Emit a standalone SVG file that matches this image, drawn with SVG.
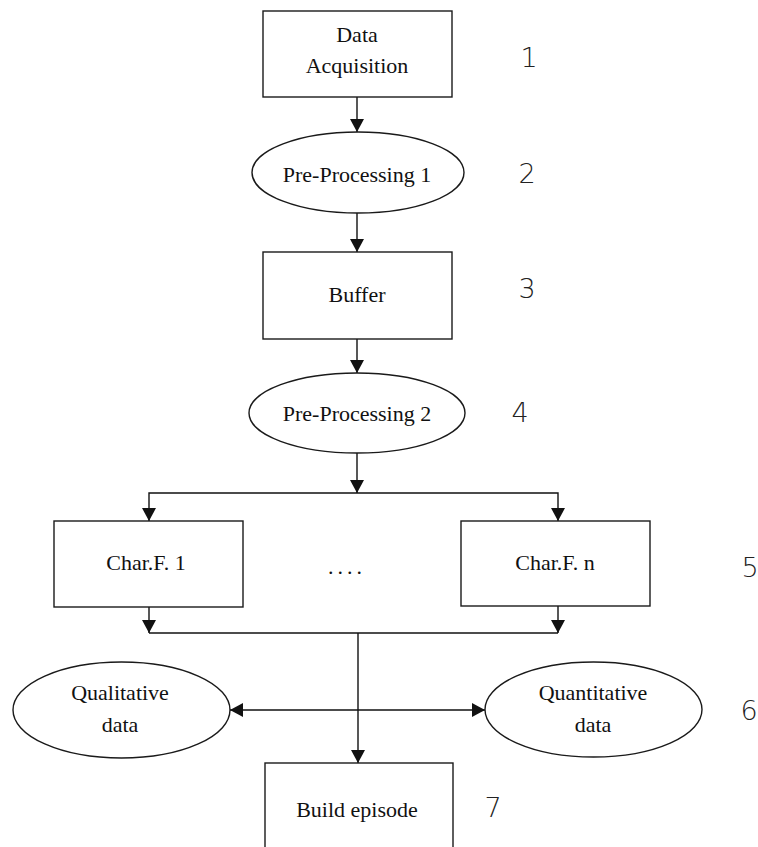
<svg xmlns="http://www.w3.org/2000/svg" width="758" height="847" viewBox="0 0 758 847">
  <style>
    .box { fill: #ffffff; stroke: #1a1a1a; stroke-width: 1.4; }
    .lbl { font-family: "Liberation Serif", "Times New Roman", serif; font-size: 22px; fill: #111; text-anchor: middle; }
    .num { font-family: "DejaVu Sans", "Liberation Sans", sans-serif; font-size: 27px; font-weight: 200; fill: #222; text-anchor: middle; }
    .wire { fill: none; stroke: #111; stroke-width: 1.4; }
  </style>
  <defs>
    <marker id="arrow" viewBox="0 0 13 14" refX="13" refY="7" markerWidth="13" markerHeight="14" markerUnits="userSpaceOnUse" orient="auto-start-reverse">
      <path d="M0,0 L13,7 L0,14 z" fill="#111"/>
    </marker>
  </defs>

  <g id="connectors">
    <line class="wire" x1="357" y1="97" x2="357" y2="132" marker-end="url(#arrow)"/>
    <line class="wire" x1="357" y1="213" x2="357" y2="252" marker-end="url(#arrow)"/>
    <line class="wire" x1="357" y1="339" x2="357" y2="373" marker-end="url(#arrow)"/>
    <line class="wire" x1="357" y1="453" x2="357" y2="493" marker-end="url(#arrow)"/>
    <polyline class="wire" points="149,521 149,493 558,493 558,521" marker-start="url(#arrow)" marker-end="url(#arrow)"/>
    <line class="wire" x1="149" y1="607" x2="149" y2="633" marker-end="url(#arrow)"/>
    <line class="wire" x1="558" y1="606" x2="558" y2="633" marker-end="url(#arrow)"/>
    <line class="wire" x1="149" y1="633" x2="558" y2="633"/>
    <line class="wire" x1="358" y1="633" x2="358" y2="763" marker-end="url(#arrow)"/>
    <line class="wire" x1="230" y1="710" x2="485" y2="710" marker-start="url(#arrow)" marker-end="url(#arrow)"/>
  </g>

  <g id="data-acquisition">
    <rect class="box" x="263" y="11" width="189" height="86"/>
    <text class="lbl" x="357" y="42">Data</text>
    <text class="lbl" x="357" y="73">Acquisition</text>
  </g>
  <g id="pre-processing-1">
    <ellipse class="box" cx="358" cy="172.5" rx="106" ry="40.5"/>
    <text class="lbl" x="357" y="182">Pre-Processing 1</text>
  </g>
  <g id="buffer">
    <rect class="box" x="263" y="252" width="189" height="87"/>
    <text class="lbl" x="357" y="302">Buffer</text>
  </g>
  <g id="pre-processing-2">
    <ellipse class="box" cx="357" cy="413" rx="108" ry="40"/>
    <text class="lbl" x="357" y="421">Pre-Processing 2</text>
  </g>
  <g id="char-f-1">
    <rect class="box" x="54" y="521" width="189" height="86"/>
    <text class="lbl" x="146" y="570">Char.F. 1</text>
  </g>
  <g id="ellipsis">
    <text class="lbl" x="347" y="574" letter-spacing="4">....</text>
  </g>
  <g id="char-f-n">
    <rect class="box" x="461" y="521" width="189" height="85"/>
    <text class="lbl" x="555" y="570">Char.F. n</text>
  </g>
  <g id="qualitative-data">
    <ellipse class="box" cx="121.5" cy="710" rx="108.5" ry="48"/>
    <text class="lbl" x="120" y="700">Qualitative</text>
    <text class="lbl" x="120" y="732">data</text>
  </g>
  <g id="quantitative-data">
    <ellipse class="box" cx="593.5" cy="709.5" rx="108.5" ry="47.5"/>
    <text class="lbl" x="593" y="700">Quantitative</text>
    <text class="lbl" x="593" y="732">data</text>
  </g>
  <g id="build-episode">
    <rect class="box" x="265" y="763" width="188" height="100"/>
    <text class="lbl" x="357" y="817">Build episode</text>
  </g>

  <g id="step-numbers">
    <text class="num" x="529" y="67">1</text>
    <text class="num" x="527" y="183">2</text>
    <text class="num" x="527" y="298">3</text>
    <text class="num" x="520" y="422">4</text>
    <text class="num" x="750" y="577">5</text>
    <text class="num" x="749" y="720">6</text>
    <text class="num" x="493" y="817">7</text>
  </g>
</svg>
